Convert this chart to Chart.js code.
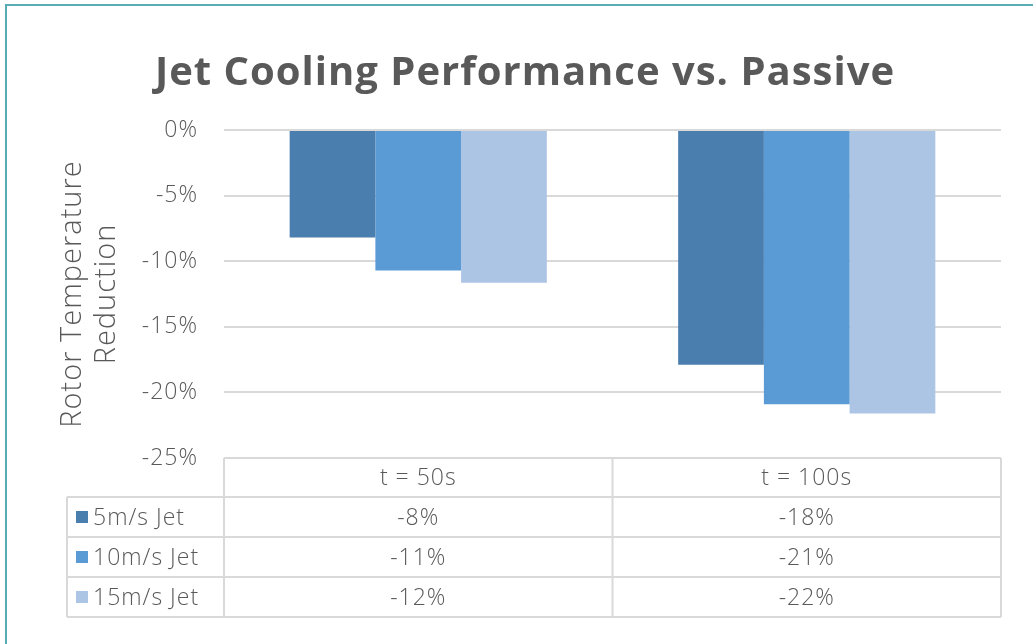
<!DOCTYPE html>
<html>
<head>
<meta charset="utf-8">
<script src="https://cdn.jsdelivr.net/npm/chart.js@4/dist/chart.umd.min.js"></script>
<style>
  html, body { margin: 0; padding: 0; background: #ffffff; overflow: hidden; }
  #frame { position: absolute; left: 5px; top: 4px; width: 1100px; height: 700px; border: 2px solid #5aacb3; box-sizing: border-box; }
  #wrap { position: absolute; left: 0; top: 0; width: 1033px; height: 644px; }
</style>
</head>
<body>
<div id="frame"></div>
<div id="wrap"><canvas id="c"></canvas></div>
<script>
// ---- data ----
const categories = ['t = 50s', 't = 100s'];
const seriesNames = ['5m/s Jet', '10m/s Jet', '15m/s Jet'];
const jet5 = [-8.2, -17.9];
const jet10 = [-10.7, -20.9];
const jet15 = [-11.65, -21.6];
const seriesColors = ['#4a7eae', '#5b9bd5', '#adc5e5'];
const yTicks = [0, -5, -10, -15, -20, -25];
const titleText = 'Jet Cooling Performance vs. Passive';
const yTitle = ['Rotor Temperature', 'Reduction'];

const seriesValues = [jet5, jet10, jet15];
const TEXT = '#595959';
const GRID = '#d9d9d9';
const FONT = "'Open Sans', 'Noto Sans', sans-serif";
const PAD_LEFT = 49;

const spacingPlugin = {
  id: 'spacing',
  beforeLayout(chart) { chart.ctx.letterSpacing = '1px'; },
  beforeDraw(chart) { chart.ctx.letterSpacing = '1px'; }
};

const tablePlugin = {
  id: 'dataTable',
  afterDraw(chart) {
    const ctx = chart.ctx;
    const ca = chart.chartArea;
    const x = chart.scales.x;
    const top = ca.bottom;
    const headerH = 39;
    const rowH = 40;
    const labelLeft = 67;
    const n = categories.length;
    const bounds = [ca.left];
    for (let i = 0; i < n; i++) {
      const c = x.getPixelForValue(i);
      const next = i < n - 1 ? (c + x.getPixelForValue(i + 1)) / 2 : ca.right;
      bounds.push(next);
    }
    ctx.save();
    ctx.letterSpacing = '1px';
    ctx.strokeStyle = GRID;
    ctx.lineWidth = 2;
    const bottom = top + headerH + rowH * seriesNames.length;
    ctx.beginPath();
    ctx.moveTo(ca.left, top); ctx.lineTo(ca.right, top);
    for (let r = 0; r <= seriesNames.length; r++) {
      const yy = top + headerH + rowH * r;
      ctx.moveTo(labelLeft, yy); ctx.lineTo(ca.right, yy);
    }
    bounds.forEach(b => { ctx.moveTo(b, top); ctx.lineTo(b, bottom); });
    ctx.moveTo(labelLeft, top + headerH); ctx.lineTo(labelLeft, bottom);
    ctx.stroke();

    ctx.fillStyle = TEXT;
    ctx.font = "300 23px " + FONT;
    ctx.textBaseline = 'middle';
    ctx.textAlign = 'center';
    categories.forEach((cat, i) => {
      ctx.fillText(cat, (bounds[i] + bounds[i + 1]) / 2, top + headerH / 2 + 1);
    });
    seriesNames.forEach((name, r) => {
      const cy = top + headerH + rowH * r + rowH / 2;
      ctx.fillStyle = seriesColors[r];
      ctx.fillRect(76, cy - 6, 12, 12);
      ctx.fillStyle = TEXT;
      ctx.textAlign = 'left';
      ctx.fillText(name, 93, cy + 1);
      ctx.textAlign = 'center';
      seriesValues[r].forEach((v, i) => {
        ctx.fillText(Math.round(v) + '%', (bounds[i] + bounds[i + 1]) / 2, cy + 1);
      });
    });
    ctx.restore();
  }
};

new Chart(document.getElementById('c'), {
  type: 'bar',
  data: {
    labels: categories,
    datasets: seriesNames.map((name, i) => ({
      label: name,
      data: seriesValues[i],
      backgroundColor: seriesColors[i],
      borderColor: seriesColors[i],
      borderWidth: 0,
      barPercentage: 1,
      categoryPercentage: 0.662
    }))
  },
  options: {
    responsive: true,
    maintainAspectRatio: false,
    animation: false,
    layout: { padding: { left: PAD_LEFT, right: 32, top: 0, bottom: 186 } },
    plugins: {
      legend: { display: false },
      tooltip: { enabled: false },
      title: {
        display: true,
        text: titleText,
        color: TEXT,
        font: { family: FONT, size: 40, weight: 'bold', lineHeight: 1.2 },
        padding: { top: 50, bottom: 32 }
      }
    },
    scales: {
      x: { display: false },
      y: {
        min: -25, max: 0,
        afterBuildTicks(scale) { scale.ticks = yTicks.map(v => ({ value: v })); },
        afterFit(scale) { scale.width = 224 - PAD_LEFT; },
        border: { display: false },
        grid: { color: GRID, lineWidth: 2, drawTicks: false },
        ticks: {
          color: TEXT,
          padding: 26,
          font: { family: FONT, size: 23, weight: '300' },
          callback: v => v + '%'
        },
        title: {
          display: true,
          text: yTitle,
          color: TEXT,
          font: { family: FONT, size: 29, weight: '300', lineHeight: 1.17 },
          padding: { top: 7, bottom: 0 }
        }
      }
    }
  },
  plugins: [spacingPlugin, tablePlugin]
});
</script>
</body>
</html>
